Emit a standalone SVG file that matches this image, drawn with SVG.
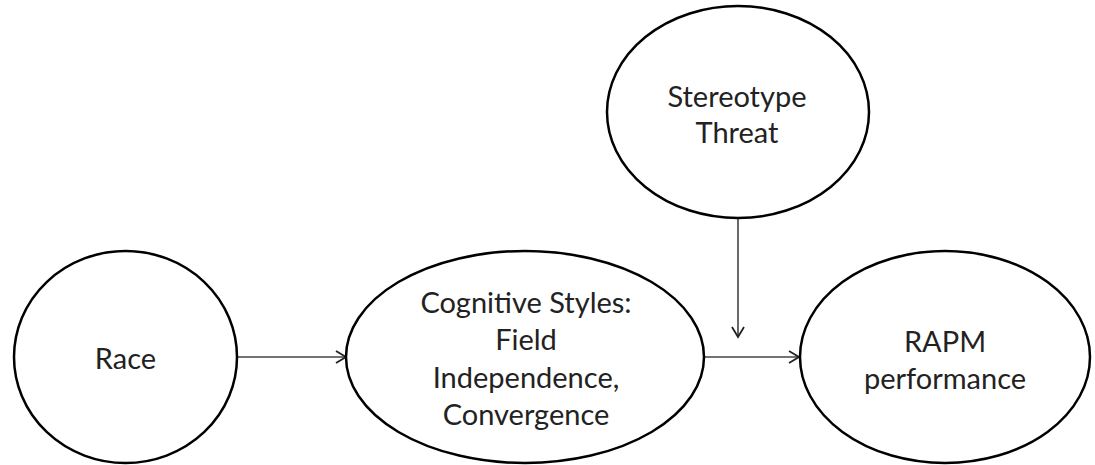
<svg xmlns="http://www.w3.org/2000/svg" width="1095" height="465" viewBox="0 0 1095 465">
<style>
.node{fill:#fff;stroke:#000;stroke-width:2.5}
.lbl{font-family:Lato,"Open Sans",sans-serif;font-size:29px;fill:#222;text-anchor:middle}
.conn{stroke:#444;stroke-width:1.6;fill:none}
</style>
<defs>
<marker id="arr" markerWidth="14" markerHeight="14" refX="11" refY="7" orient="auto" markerUnits="userSpaceOnUse">
<path d="M1,1 L11,7 L1,13" fill="none" stroke="#222" stroke-width="1.8"/>
</marker>
</defs>
<rect width="1095" height="465" fill="#fff"/>
<g id="connectors">
<line class="conn" x1="237" y1="357" x2="346" y2="357" marker-end="url(#arr)"/>
<line class="conn" x1="704" y1="357" x2="799" y2="357" marker-end="url(#arr)"/>
<line class="conn" x1="738" y1="218" x2="738" y2="337" marker-end="url(#arr)"/>
</g>
<g id="race">
<ellipse class="node" cx="125.5" cy="357" rx="111.5" ry="106"/>
<text class="lbl" x="125.5" y="369">Race</text>
</g>
<g id="cognitive">
<ellipse class="node" cx="525" cy="357" rx="179" ry="106"/>
<text class="lbl" x="526" y="313">Cognitive Styles:</text>
<text class="lbl" x="526" y="350">Field</text>
<text class="lbl" x="526" y="388">Independence,</text>
<text class="lbl" x="526" y="425">Convergence</text>
</g>
<g id="stereotype">
<ellipse class="node" cx="738" cy="112" rx="131" ry="106"/>
<text class="lbl" x="737" y="107">Stereotype</text>
<text class="lbl" x="737" y="143">Threat</text>
</g>
<g id="rapm">
<ellipse class="node" cx="945" cy="357" rx="145" ry="106"/>
<text class="lbl" x="945" y="352">RAPM</text>
<text class="lbl" x="945" y="389">performance</text>
</g>
</svg>
